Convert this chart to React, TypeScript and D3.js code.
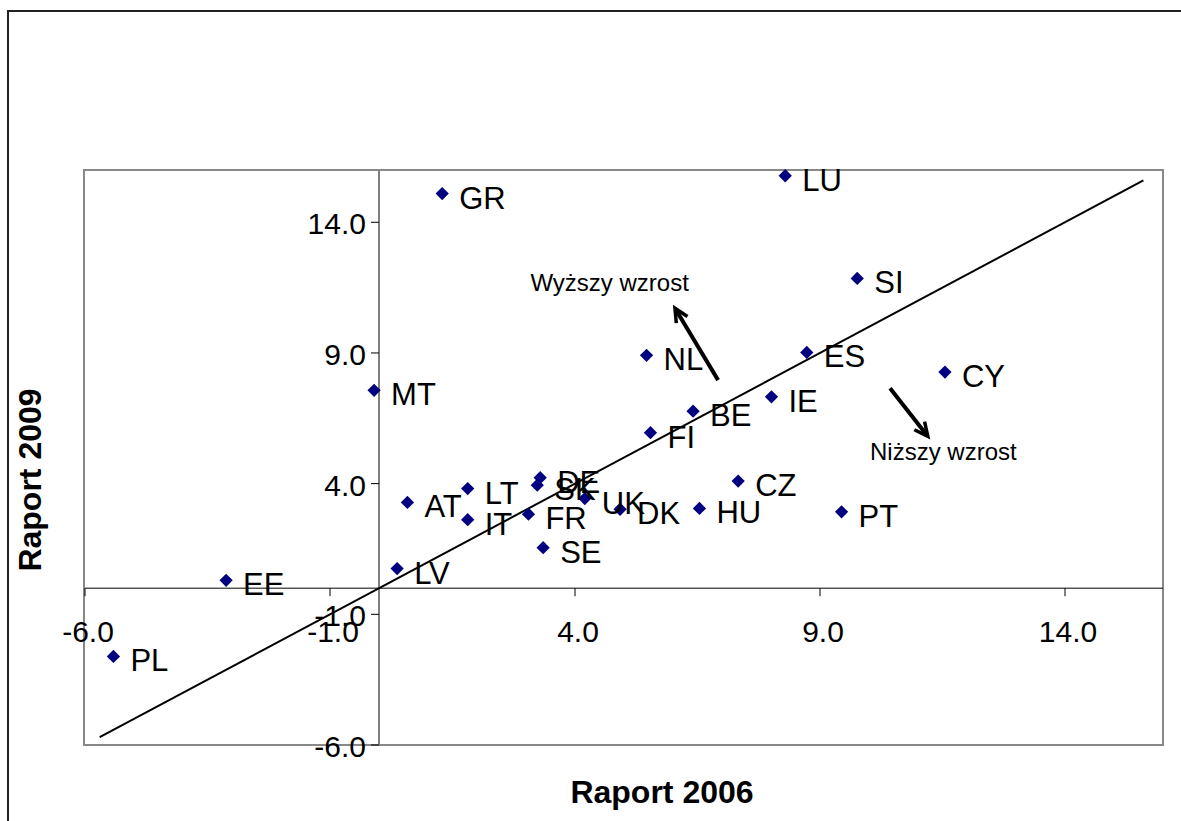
import React from 'react';
import * as d3 from 'd3';

// kraje i wartości (Raport 2006 -> x, Raport 2009 -> y)
const countries = ['PL', 'EE', 'LV', 'MT', 'GR', 'LU', 'SI', 'ES', 'CY', 'NL', 'IE', 'BE', 'FI', 'CZ', 'PT', 'HU', 'DK', 'UK', 'DE', 'SK', 'AT', 'LT', 'IT', 'FR', 'SE'];
const raport2006 = [-5.42, -3.12, 0.37, -0.1, 1.29, 8.29, 9.76, 8.73, 11.55, 5.46, 8.01, 6.41, 5.54, 7.33, 9.44, 6.54, 4.92, 4.2, 3.29, 3.23, 0.58, 1.81, 1.81, 3.05, 3.35];
const raport2009 = [-2.61, 0.3, 0.75, 7.57, 15.1, 15.78, 11.85, 9.02, 8.27, 8.91, 7.32, 6.77, 5.95, 4.1, 2.92, 3.05, 3.02, 3.43, 4.23, 3.94, 3.28, 3.81, 2.62, 2.83, 1.55];

// linia y = x
const diagonal = [-5.7, 15.6];

const tickValues = [-6, -1, 4, 9, 14];
const domain = [-6, 16];

// adnotacje (w jednostkach danych)
const arrowUp = [[6.92, 7.96], [6.04, 10.71]];
const arrowDown = [[10.43, 7.65], [11.2, 5.81]];
const notes = [
  { text: 'Wyższy wzrost', x: 3.09, y: 11.37 },
  { text: 'Niższy wzrost', x: 10.02, y: 4.89 },
];

const FONT = '"Liberation Sans", Arial, sans-serif';

const Arrow: React.FC<{ pts: number[][]; x: any; y: any }> = ({ pts, x, y }) => {
  const x0 = x(pts[0][0]), y0 = y(pts[0][1]);
  const x1 = x(pts[1][0]), y1 = y(pts[1][1]);
  const ang = Math.atan2(y1 - y0, x1 - x0);
  const len = 15, spread = 0.45;
  const b1 = [x1 - len * Math.cos(ang - spread), y1 - len * Math.sin(ang - spread)];
  const b2 = [x1 - len * Math.cos(ang + spread), y1 - len * Math.sin(ang + spread)];
  return (
    <g stroke="#000" strokeWidth={4} fill="none">
      <line x1={x0} y1={y0} x2={x1 - 3 * Math.cos(ang)} y2={y1 - 3 * Math.sin(ang)} />
      <path d={`M${b1[0]},${b1[1]}L${x1},${y1}L${b2[0]},${b2[1]}`} strokeWidth={3.5} strokeLinejoin="miter" />
    </g>
  );
};

export default function App() {
  const x = d3.scaleLinear().domain(domain).range([85, 1163]);
  const y = d3.scaleLinear().domain(domain).range([745, 170]);
  const x0 = x(0);
  const y0 = y(0);

  const diamond = d3.symbol().type(d3.symbolSquare).size(88)();
  const linePath = d3.line<number>().x((d) => x(d)).y((d) => y(d))(diagonal) || '';

  return (
    <svg
      width={1181}
      height={821}
      style={{ position: 'absolute', left: 0, top: 0, background: '#fff' }}
      fontFamily={FONT}
    >
      {/* ramka wykresu */}
      <rect x={8} y={11} width={1200} height={850} fill="#fff" stroke="#222" strokeWidth={2} />
      {/* obszar kreślenia */}
      <rect x={84} y={170} width={1079} height={575} fill="#fff" stroke="#888" strokeWidth={2} />

      {/* osie */}
      <line x1={x(-6)} x2={x(16)} y1={y0} y2={y0} stroke="#000" strokeWidth={1} />
      <line x1={x0} x2={x0} y1={y(-6)} y2={y(16)} stroke="#808080" strokeWidth={2} />

      {tickValues.map((t) => (
        <g key={'xt' + t}>
          <line x1={x(t)} x2={x(t)} y1={y0} y2={y0 + 8} stroke="#000" strokeWidth={1} />
          <text x={x(t) + 3} y={y0 + 54} textAnchor="middle" fontSize={30} fill="#000">
            {t.toFixed(1)}
          </text>
        </g>
      ))}
      {tickValues.map((t) => (
        <g key={'yt' + t}>
          <line x1={x0 - 8} x2={x0} y1={y(t)} y2={y(t)} stroke="#000" strokeWidth={1} />
          <text x={x0 - 13} y={y(t) + 12} textAnchor="end" fontSize={30} fill="#000">
            {t.toFixed(1)}
          </text>
        </g>
      ))}

      {/* przekątna */}
      <path d={linePath} stroke="#000" strokeWidth={2} fill="none" />

      {/* punkty */}
      {countries.map((c, i) => (
        <g key={c}>
          <path
            d={diamond}
            transform={`translate(${x(raport2006[i])},${y(raport2009[i])}) rotate(45)`}
            fill="#000080"
          />
          <text x={x(raport2006[i]) + 17} y={y(raport2009[i]) + 15} fontSize={31} fill="#000">
            {c}
          </text>
        </g>
      ))}

      {/* strzałki i opisy */}
      <Arrow pts={arrowUp} x={x} y={y} />
      <Arrow pts={arrowDown} x={x} y={y} />
      {notes.map((n) => (
        <text key={n.text} x={x(n.x)} y={y(n.y)} fontSize={24} fill="#000">
          {n.text}
        </text>
      ))}

      {/* tytuły osi */}
      <text x={662} y={803} textAnchor="middle" fontSize={32} fontWeight="bold" fill="#000">
        Raport 2006
      </text>
      <text
        transform="translate(41,480) rotate(-90)"
        textAnchor="middle"
        fontSize={32}
        fontWeight="bold"
        fill="#000"
      >
        Raport 2009
      </text>
    </svg>
  );
}
